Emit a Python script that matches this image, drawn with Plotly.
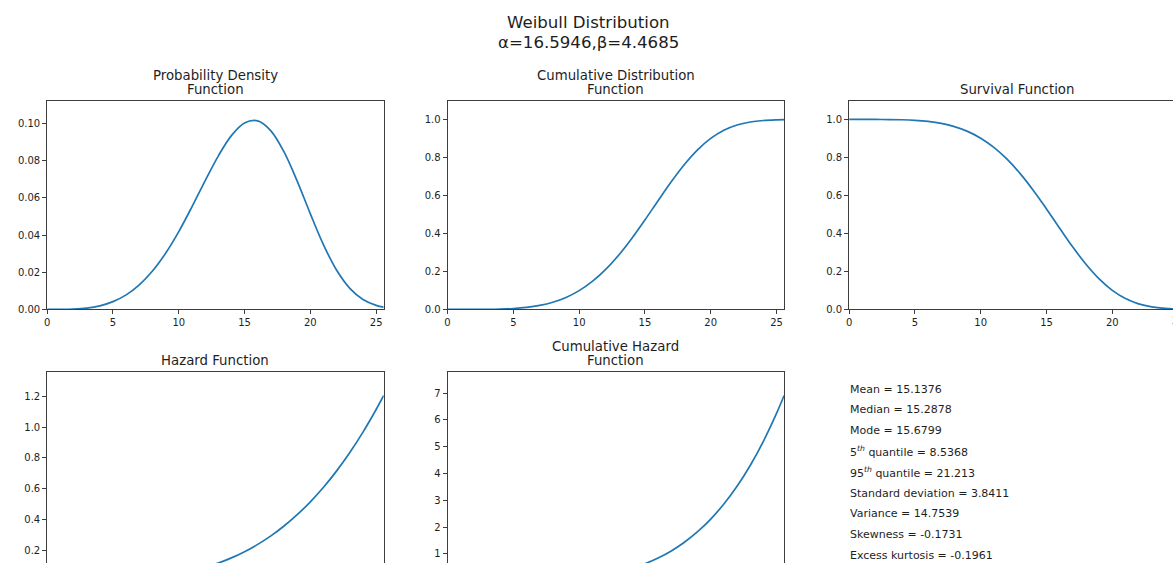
import plotly.graph_objects as go

# Weibull curves sampled on a grid of x values
x_vals = [0, 1, 2, 3, 4, 5, 6, 7, 8, 9, 10, 11, 12, 13, 14, 15,
          16, 17, 18, 19, 20, 21, 22, 23, 24, 25, 25.576]

pdf_vals = [0, 0.0000158, 0.000175, 0.000714, 0.001933, 0.004179, 0.007820,
            0.013207, 0.020627, 0.030222, 0.041887, 0.055164, 0.069160,
            0.082521, 0.093526, 0.100345, 0.101455, 0.096117,
            0.084747, 0.069008, 0.051443, 0.034769, 0.021082, 0.011336,
            0.005338, 0.002173, 0.001207]

cdf_vals = [0, 0.000004, 0.000078, 0.000479, 0.001732, 0.004687, 0.010555,
            0.020909, 0.037648, 0.062890, 0.098785, 0.147205, 0.209360,
            0.285321, 0.373621, 0.470973, 0.572396, 0.671722,
            0.762607, 0.839751, 0.900010, 0.942940, 0.970558, 0.986431,
            0.994487, 0.998052, 0.999000]

sf_vals = [1, 0.999996, 0.999922, 0.999521, 0.998268, 0.995313, 0.989445,
           0.979091, 0.962352, 0.937110, 0.901215, 0.852795, 0.790640,
           0.714679, 0.626379, 0.529027, 0.427604, 0.328278,
           0.237393, 0.160249, 0.099990, 0.057060, 0.029442, 0.013569,
           0.005513, 0.001948, 0.001000]

hazard_vals = [0, 0.0000158, 0.000175, 0.000714, 0.001936, 0.004199, 0.007903,
               0.013489, 0.021435, 0.032250, 0.046478, 0.064687, 0.087475,
               0.115468, 0.149309, 0.189680, 0.237268, 0.292791,
               0.356989, 0.430628, 0.514478, 0.609348, 0.716031, 0.835405,
               0.968296, 1.115567, 1.206895]

cumhaz_vals = [0, 0.0000035, 0.0000783, 0.000479, 0.001733, 0.004698, 0.010611,
               0.021131, 0.038375, 0.064955, 0.104013, 0.159237, 0.234912,
               0.335922, 0.467800, 0.636717, 0.849559, 1.113893,
               1.438034, 1.831021, 2.302686, 2.863645, 3.525316, 4.299950,
               5.200640, 6.241350, 6.907755]

title_lines = ["Weibull Distribution", "α=16.5946,β=4.4685"]

panel_titles = [["Probability Density", "Function"],
                ["Cumulative Distribution", "Function"],
                ["Survival Function"],
                ["Hazard Function"],
                ["Cumulative Hazard", "Function"]]

stats_lines = ["Mean = 15.1376",
               "Median = 15.2878",
               "Mode = 15.6799",
               "5<sup><i>th</i></sup> quantile = 8.5368",
               "95<sup><i>th</i></sup> quantile = 21.213",
               "Standard deviation = 3.8411",
               "Variance = 14.7539",
               "Skewness = -0.1731",
               "Excess kurtosis = -0.1961"]

x_ticks = [0, 5, 10, 15, 20, 25]

W, H = 1173, 569
FONT = "DejaVu Sans"
LINE_COLOR = "#1f77b4"
AX_COLOR = "#3d3d3d"
TXT = "#1e1e1e"


def px_x(p):
    return p / W


def px_y(p):
    return 1 - p / H


# panel boxes in pixels: left, right, top, bottom
boxes = [
    (44.3, 381.7, 102, 312.7),
    (445.7, 783.1, 102, 312.7),
    (848.3, 1185.7, 102, 312.7),
    (44.3, 381.7, 376, 587),
    (445.7, 783.1, 376, 587),
]
x_full = [0, 25.576]
y_ranges = [
    [0, 0.1122],
    [0, 1.0975],
    [0, 1.0975],
    [0, 1.3597],
    [0, 7.784],
]
series = [pdf_vals, cdf_vals, sf_vals, hazard_vals, cumhaz_vals]

fig = go.Figure()
annotations = []

for i, (box, yr, ys) in enumerate(zip(boxes, y_ranges, series)):
    k = "" if i == 0 else str(i + 1)
    left, right, top, bottom = box
    # clip the panel to the visible page
    x_scale = (x_full[1] - x_full[0]) / (right - left)
    y_scale = (yr[1] - yr[0]) / (bottom - top)
    vis_right = min(right, W)
    vis_bottom = min(bottom, H)
    xr = [x_full[0], x_full[0] + (vis_right - left) * x_scale]
    yr_vis = [yr[0] + (bottom - vis_bottom) * y_scale, yr[1]]

    fig.add_trace(go.Scatter(
        x=x_vals, y=ys, mode="lines",
        line=dict(color=LINE_COLOR, width=1.7, shape="spline", smoothing=1.0),
        xaxis="x" + k, yaxis="y" + k, showlegend=False, hoverinfo="skip"))

    cut_bottom = bottom > H
    cut_right = right > W

    if i == 0:
        ytickformat = ".2f"
        ytickvals = [0, 0.02, 0.04, 0.06, 0.08, 0.10]
    elif i in (1, 2):
        ytickformat = ".1f"
        ytickvals = [0, 0.2, 0.4, 0.6, 0.8, 1.0]
    elif i == 3:
        ytickformat = ".1f"
        ytickvals = [0.2, 0.4, 0.6, 0.8, 1.0, 1.2]
    else:
        ytickformat = "d"
        ytickvals = [1, 2, 3, 4, 5, 6, 7]

    xa = dict(domain=[px_x(left), px_x(vis_right)], range=xr, anchor="y" + k,
              showgrid=False, zeroline=False, showline=True, linecolor=AX_COLOR,
              linewidth=1, tickfont=dict(family=FONT, size=10, color=TXT),
              fixedrange=True)
    if cut_bottom:
        xa.update(side="top", ticks="", showticklabels=False, mirror=False)
    else:
        xa.update(side="bottom", mirror=True, ticks="outside", ticklen=4,
                  tickwidth=1, tickcolor=AX_COLOR, tickvals=x_ticks)

    ya = dict(domain=[px_y(vis_bottom), px_y(top)], range=yr_vis, anchor="x" + k,
              showgrid=False, zeroline=False, showline=True, linecolor=AX_COLOR,
              linewidth=1, mirror=not cut_right, ticks="outside", ticklen=4,
              tickwidth=1, tickcolor=AX_COLOR, tickvals=ytickvals,
              tickformat=ytickformat,
              tickfont=dict(family=FONT, size=10, color=TXT), fixedrange=True)

    fig.update_layout(**{"xaxis" + k: xa, "yaxis" + k: ya})

    # panel title (one or two lines above the frame)
    lines = panel_titles[i]
    cx = (left + right) / 2
    for j, txt in enumerate(lines):
        ypix = top - 11.5 - 14.5 * (len(lines) - 1 - j)
        annotations.append(dict(
            text=txt, x=px_x(cx), y=px_y(ypix), xref="paper", yref="paper",
            xanchor="center", yanchor="middle", showarrow=False,
            font=dict(family=FONT, size=13.3, color=TXT)))

    # partially visible last tick label on the clipped panel
    if cut_right:
        tick_px = left + (25 - x_full[0]) / x_scale
        annotations.append(dict(
            text="25", x=px_x(tick_px), y=px_y(bottom + 11.5),
            xref="paper", yref="paper", xanchor="center", yanchor="middle",
            showarrow=False, font=dict(family=FONT, size=10, color=TXT)))

# figure title
for j, txt in enumerate(title_lines):
    annotations.append(dict(
        text=txt, x=px_x(587), y=px_y(22.5 + 20 * j), xref="paper", yref="paper",
        xanchor="center", yanchor="middle", showarrow=False,
        font=dict(family=FONT, size=16.6, color=TXT)))

# summary statistics
for j, txt in enumerate(stats_lines):
    annotations.append(dict(
        text=txt, x=px_x(847.5), y=px_y(393.3 + 21 * j), xref="paper", yref="paper",
        xanchor="left", yanchor="middle", showarrow=False,
        font=dict(family=FONT, size=11, color=TXT)))

fig.update_layout(
    width=W, height=H,
    margin=dict(l=0, r=0, t=0, b=0),
    paper_bgcolor="white", plot_bgcolor="white",
    annotations=annotations,
    showlegend=False,
)

fig.write_html("out.html", config={"displayModeBar": False})
